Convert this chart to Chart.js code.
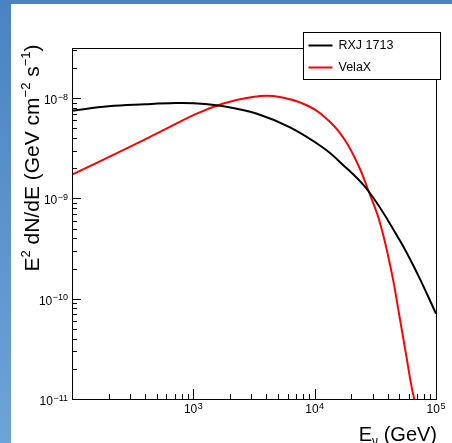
<!DOCTYPE html>
<html lang="en">
<head>
<meta charset="UTF-8" />
<title>E2 dN/dE spectra</title>
<script src="https://cdn.jsdelivr.net/npm/chart.js@4.4.1/dist/chart.umd.min.js"></script>
<style>
  html, body { margin: 0; padding: 0; }
  body { width: 452px; height: 443px; overflow: hidden; position: relative;
         background: linear-gradient(to bottom, #4a83c2, #6fa3d7); }
  #sheet { position: absolute; left: 11px; top: 4px; width: 441px; height: 439px; background: #fff; }
  canvas { display: block; }
</style>
</head>
<body>
<div id="sheet"><canvas id="chart" width="441" height="439"></canvas></div>
<script>
// energies in GeV, E^2 dN/dE in GeV cm^-2 s^-1
const rxjEnergy = [100, 200, 400, 710, 1000, 1780, 3350, 6270, 11750, 16200, 27500, 50100, 71300, 100000];
const rxjFlux   = [7.5e-9, 8.3e-9, 8.7e-9, 8.95e-9, 8.9e-9, 8.3e-9, 7.0e-9, 5.1e-9, 3.2e-9, 2.3e-9, 1.2e-9, 3.85e-10, 1.71e-10, 7.1e-11];

const velaEnergy = [100, 282, 531, 1067, 1766, 2818, 4571, 8610, 13400, 17800, 22900, 27700, 34700, 43300, 49000, 57500, 63100, 67600];
const velaFlux   = [1.73e-9, 3.15e-9, 4.6e-9, 7.0e-9, 8.83e-9, 1.01e-8, 1.05e-8, 8.5e-9, 5.78e-9, 3.8e-9, 2.14e-9, 1.2e-9, 5.6e-10, 1.78e-10, 7.7e-11, 2.5e-11, 1.3e-11, 9e-12];

const seriesNames = ['RXJ 1713', 'VelaX'];
const seriesColors = ['#000000', '#ff0000'];

const xRange = [1e2, 1e5];
const yRange = [1e-11, 3.1623e-8];

// decade labels drawn as 10^n
const xTickValues = [1e3, 1e4, 1e5];
const xTickExps = ['3', '4', '5'];
const yTickValues = [1e-8, 1e-9, 1e-10, 1e-11];
const yTickExps = ['\u22128', '\u22129', '\u221210', '\u221211'];

const FONT = '"Liberation Sans", Arial, sans-serif';

function toPoints(xs, ys) {
  return xs.map((v, i) => ({ x: v, y: ys[i] }));
}

// draws a run of [text, shift] pieces; shift 1 = superscript, -1 = subscript
function drawRich(ctx, parts, x, y, size, align) {
  const small = Math.round(size * 0.6);
  const widths = parts.map(p => {
    ctx.font = (p[1] ? small : size) + 'px ' + FONT;
    return ctx.measureText(p[0]).width;
  });
  const total = widths.reduce((s, w) => s + w, 0);
  let cx = align === 'right' ? x - total : align === 'center' ? x - total / 2 : x;
  ctx.textAlign = 'left';
  ctx.textBaseline = 'alphabetic';
  parts.forEach((p, i) => {
    ctx.font = (p[1] ? small : size) + 'px ' + FONT;
    const dy = p[1] === 1 ? -size * 0.45 : p[1] === -1 ? size * 0.22 : 0;
    ctx.fillText(p[0], cx, y + dy);
    cx += widths[i];
  });
}

function drawPower(ctx, exp, x, y, align) {
  ctx.font = '12px ' + FONT;
  const wb = ctx.measureText('10').width;
  ctx.font = '9px ' + FONT;
  const we = ctx.measureText(exp).width;
  const total = wb + we + 0.5;
  let cx = align === 'right' ? x - total : x - total / 2;
  ctx.textAlign = 'left';
  ctx.textBaseline = 'alphabetic';
  ctx.font = '12px ' + FONT;
  ctx.fillText('10', cx, y);
  ctx.font = '9px ' + FONT;
  ctx.fillText(exp, cx + wb + 0.5, y - 4.5);
}

function logTicks(min, max) {
  const out = [];
  for (let d = Math.floor(Math.log10(min)); d <= Math.ceil(Math.log10(max)); d++) {
    for (let m = 1; m <= 9; m++) {
      const v = m * Math.pow(10, d);
      if (v >= min * 0.999 && v <= max * 1.001) out.push({ v: v, major: m === 1 });
    }
  }
  return out;
}

const frameAxes = {
  id: 'frameAxes',
  afterDatasetsDraw(chart) {
    const { ctx, chartArea: a, scales } = chart;
    const x = scales.x, y = scales.y;
    ctx.save();
    ctx.strokeStyle = '#000';
    ctx.fillStyle = '#000';
    ctx.lineWidth = 1;
    ctx.strokeRect(a.left + 0.5, a.top + 0.5, a.right - a.left, a.bottom - a.top);

    // inward tick marks
    ctx.beginPath();
    logTicks(xRange[0], xRange[1]).forEach(t => {
      const px = Math.round(x.getPixelForValue(t.v)) + 0.5;
      ctx.moveTo(px, a.bottom);
      ctx.lineTo(px, a.bottom - (t.major ? 10 : 5));
    });
    logTicks(yRange[0], yRange[1]).forEach(t => {
      const py = Math.round(y.getPixelForValue(t.v)) + 0.5;
      ctx.moveTo(a.left, py);
      ctx.lineTo(a.left + (t.major ? 9 : 5), py);
    });
    ctx.stroke();

    xTickValues.forEach((v, i) => drawPower(ctx, xTickExps[i], x.getPixelForValue(v), a.bottom + 14, 'center'));
    yTickValues.forEach((v, i) => drawPower(ctx, yTickExps[i], a.left - 4, y.getPixelForValue(v) + 6, 'right'));

    // axis titles
    drawRich(ctx, [['E', 0], ['\u03bd', -1], [' (GeV)', 0]], a.right + 1, 437, 20, 'right');
    ctx.save();
    ctx.translate(28, 154);
    ctx.rotate(-Math.PI / 2);
    drawRich(ctx, [['E', 0], ['2', 1], [' dN/dE (GeV cm', 0], ['\u22122', 1], [' s', 0], ['\u22121', 1], [')', 0]], 0, 0, 21, 'center');
    ctx.restore();

    // legend box
    const bx = 292.5, by = 28.5, bw = 137, bh = 47;
    ctx.fillStyle = '#fff';
    ctx.fillRect(bx, by, bw, bh);
    ctx.strokeStyle = '#000';
    ctx.strokeRect(bx, by, bw, bh);
    chart.data.datasets.forEach((ds, i) => {
      const ly = by + 13 + i * 22;
      ctx.strokeStyle = ds.borderColor;
      ctx.lineWidth = 2;
      ctx.beginPath();
      ctx.moveTo(bx + 5, ly);
      ctx.lineTo(bx + 29, ly);
      ctx.stroke();
      ctx.fillStyle = '#000';
      ctx.font = '12.5px ' + FONT;
      ctx.textAlign = 'left';
      ctx.textBaseline = 'middle';
      ctx.fillText(ds.label, bx + 35, ly);
    });
    ctx.restore();
  }
};

const ctx = document.getElementById('chart').getContext('2d');
new Chart(ctx, {
  type: 'line',
  data: {
    datasets: [
      { label: seriesNames[0], data: toPoints(rxjEnergy, rxjFlux), borderColor: seriesColors[0] },
      { label: seriesNames[1], data: toPoints(velaEnergy, velaFlux), borderColor: seriesColors[1] }
    ]
  },
  options: {
    responsive: false,
    animation: false,
    layout: { padding: { left: 61, right: 16, top: 44, bottom: 44 } },
    elements: {
      line: { borderWidth: 2, tension: 0.4, fill: false },
      point: { radius: 0, hoverRadius: 0 }
    },
    scales: {
      x: { type: 'logarithmic', min: xRange[0], max: xRange[1], display: false },
      y: { type: 'logarithmic', min: yRange[0], max: yRange[1], display: false }
    },
    plugins: { legend: { display: false }, tooltip: { enabled: false } }
  },
  plugins: [frameAxes]
});
</script>
</body>
</html>
